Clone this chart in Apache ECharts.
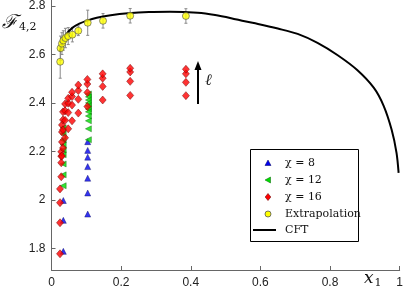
<!DOCTYPE html>
<html><head><meta charset="utf-8">
<script src="https://cdn.jsdelivr.net/npm/echarts@6/dist/echarts.min.js"></script>
<style>html,body{margin:0;padding:0;background:#fff}#c{width:406px;height:295px}</style>
</head><body><div id="c"></div>
<script>
// ---- data ----
const xTicks = [0, 0.2, 0.4, 0.6, 0.8, 1];
const yTicks = [1.8, 2, 2.2, 2.4, 2.6, 2.8];

const chi8 = [
  [0.034, 1.997], [0.034, 1.915], [0.034, 1.787],
  [0.104, 2.240], [0.104, 2.204], [0.104, 2.176], [0.104, 2.137],
  [0.104, 2.089], [0.104, 2.028], [0.104, 1.941]
];
const chi12 = [
  [0.0335, 2.058], [0.0335, 2.103], [0.0335, 2.148], [0.0335, 2.186],
  [0.0335, 2.206], [0.0335, 2.227], [0.0335, 2.247], [0.0335, 2.272], [0.0335, 2.297],
  [0.106, 2.437], [0.106, 2.425], [0.106, 2.412], [0.106, 2.400], [0.106, 2.388],
  [0.106, 2.375], [0.106, 2.363], [0.106, 2.346], [0.106, 2.326], [0.106, 2.293], [0.106, 2.248]
];
const chi16 = [
  [0.0245, 1.777], [0.0245, 1.905], [0.0245, 1.988], [0.0245, 2.045],
  [0.028, 2.095], [0.028, 2.153], [0.028, 2.180], [0.028, 2.198],
  [0.030, 2.181], [0.030, 2.239], [0.030, 2.280], [0.030, 2.309],
  [0.033, 2.214], [0.033, 2.289], [0.033, 2.330], [0.033, 2.363],
  [0.039, 2.256], [0.039, 2.328], [0.039, 2.367], [0.039, 2.396],
  [0.048, 2.293], [0.048, 2.360], [0.048, 2.399], [0.048, 2.419],
  [0.059, 2.326], [0.059, 2.391], [0.059, 2.426], [0.059, 2.444],
  [0.077, 2.358], [0.077, 2.415], [0.077, 2.451], [0.077, 2.474],
  [0.103, 2.385], [0.103, 2.443], [0.103, 2.478], [0.103, 2.497],
  [0.147, 2.412], [0.147, 2.468], [0.147, 2.502], [0.147, 2.520],
  [0.226, 2.431], [0.226, 2.489], [0.226, 2.528], [0.226, 2.543],
  [0.386, 2.430], [0.386, 2.485], [0.386, 2.520], [0.386, 2.539]
];
// x, value, error
const extrap = [
  [0.025, 2.570, 0.068], [0.026, 2.626, 0.050], [0.030, 2.645, 0.045],
  [0.034, 2.658, 0.040], [0.040, 2.668, 0.040], [0.048, 2.676, 0.035],
  [0.060, 2.682, 0.030], [0.077, 2.698, 0.020], [0.104, 2.731, 0.052],
  [0.148, 2.739, 0.030], [0.226, 2.760, 0.030], [0.386, 2.759, 0.030]
];
const cftX = [0.024, 0.028, 0.035, 0.045, 0.06, 0.08, 0.1, 0.13, 0.17, 0.22, 0.28, 0.34, 0.42, 0.47,
  0.516, 0.555, 0.593, 0.65, 0.707, 0.764, 0.821, 0.878, 0.926, 0.954, 0.977, 0.991, 0.997];
const cftY = [2.612, 2.635, 2.662, 2.688, 2.71, 2.727, 2.739, 2.752, 2.762, 2.770, 2.775, 2.776, 2.772, 2.763,
  2.750, 2.737, 2.726, 2.707, 2.685, 2.648, 2.598, 2.536, 2.462, 2.388, 2.289, 2.194, 2.111];
const names = ['\u03c7 = 8', '\u03c7 = 12', '\u03c7 = 16', 'Extrapolation', 'CFT'];

// ---- chart ----
const chart = echarts.init(document.getElementById('c'), null, {renderer: 'canvas'});
const axisCol = '#666';
const leftTri = 'path://M0,5 L10,0 L10,10 Z';
const serif = 'DejaVu Serif';
const C8 = {fill: '#0000ee', stroke: '#000060', lineWidth: 0.5};
const C12 = {fill: '#00dd00', stroke: '#006000', lineWidth: 0.5};
const C16 = {fill: '#ff0000', stroke: '#700000', lineWidth: 0.6};
const CEX = {fill: '#ffff00', stroke: '#555', lineWidth: 0.8};

// legend drawn as graphic (box + keys)
const LX = 250, LY = 149, LW = 108, LH = 92, KX = 268, TX = 285;
const rows = [163, 180, 197, 214, 230];
const legendEls = [
  {type: 'rect', shape: {x: LX + 0.5, y: LY + 0.5, width: LW, height: LH}, style: {fill: '#fff', stroke: '#000', lineWidth: 1}, z: 100},
  {type: 'polygon', shape: {points: [[KX, rows[0] - 3], [KX - 3, rows[0] + 2.5], [KX + 3, rows[0] + 2.5]]}, style: C8, z: 101},
  {type: 'polygon', shape: {points: [[KX - 3, rows[1]], [KX + 2.5, rows[1] - 3], [KX + 2.5, rows[1] + 3]]}, style: C12, z: 101},
  {type: 'polygon', shape: {points: [[KX, rows[2] - 3.5], [KX + 2.8, rows[2]], [KX, rows[2] + 3.5], [KX - 2.8, rows[2]]]}, style: C16, z: 101},
  {type: 'circle', shape: {cx: KX, cy: rows[3], r: 3}, style: CEX, z: 101},
  {type: 'line', shape: {x1: 253, y1: rows[4], x2: 276, y2: rows[4]}, style: {stroke: '#000', lineWidth: 2}, z: 101}
];
names.forEach((n, i) => legendEls.push({type: 'text', x: TX, y: rows[i], z: 101,
  style: {text: n, fontFamily: serif, fontSize: 11, fill: '#111', verticalAlign: 'middle'}}));

chart.setOption({
  animation: false,
  grid: {left: 51.5, right: 3, top: 0, bottom: 25},
  xAxis: {
    type: 'value', min: 0, max: 1, interval: 0.2,
    axisLine: {show: true, lineStyle: {color: axisCol, width: 1}},
    axisTick: {show: true, inside: true, length: 4, lineStyle: {color: axisCol}},
    axisLabel: {color: '#222', fontFamily: 'Liberation Sans', fontSize: 12, margin: 7,
      formatter: v => String(+v.toFixed(1))},
    splitLine: {show: false}
  },
  yAxis: {
    type: 'value', min: 1.71, max: 2.825,
    axisLine: {show: true, lineStyle: {color: axisCol, width: 1}},
    axisTick: {show: true, inside: true, length: 4, customValues: yTicks, lineStyle: {color: axisCol}},
    axisLabel: {color: '#222', fontFamily: 'Liberation Sans', fontSize: 12, margin: 6,
      customValues: yTicks, formatter: v => String(+v.toFixed(1))},
    splitLine: {show: false}
  },
  series: [
    {name: names[0], type: 'scatter', data: chi8, symbol: 'triangle', symbolSize: [6, 6],
      itemStyle: {color: C8.fill, borderColor: C8.stroke, borderWidth: 0.5}, z: 2},
    {name: names[1], type: 'scatter', data: chi12, symbol: leftTri, symbolSize: [6, 6],
      itemStyle: {color: C12.fill, borderColor: C12.stroke, borderWidth: 0.5}, z: 3},
    {name: names[2], type: 'scatter', data: chi16, symbol: 'diamond', symbolSize: [7, 8],
      itemStyle: {color: C16.fill, borderColor: C16.stroke, borderWidth: 0.6}, z: 4},
    {name: 'err', type: 'custom', data: extrap, z: 5, silent: true,
      renderItem: (params, api) => {
        const x = api.value(0), y = api.value(1), e = api.value(2);
        const t = api.coord([x, y + e]), b = api.coord([x, y - e]);
        const st = {stroke: '#8a8a8a', lineWidth: 1};
        return {type: 'group', children: [
          {type: 'line', shape: {x1: t[0], y1: t[1], x2: b[0], y2: b[1]}, style: st},
          {type: 'line', shape: {x1: t[0] - 1.5, y1: t[1], x2: t[0] + 1.5, y2: t[1]}, style: st},
          {type: 'line', shape: {x1: b[0] - 1.5, y1: b[1], x2: b[0] + 1.5, y2: b[1]}, style: st}
        ]};
      }},
    {name: names[4], type: 'line', data: cftX.map((x, i) => [x, cftY[i]]), showSymbol: false,
      smooth: 0.3, lineStyle: {color: '#000', width: 2}, itemStyle: {color: '#000'}, z: 6},
    {name: names[3], type: 'scatter', data: extrap.map(d => [d[0], d[1]]), symbol: 'circle', symbolSize: 7,
      itemStyle: {color: CEX.fill, borderColor: CEX.stroke, borderWidth: 0.8}, z: 7}
  ],
  graphic: legendEls.concat([
    {type: 'text', left: 2, top: 14, style: {
      text: '{f|\u2131}{s|4,2}', rich: {
        f: {fontFamily: serif, fontSize: 19, fill: '#111', fontStyle: 'italic'},
        s: {fontFamily: serif, fontSize: 11, fill: '#111', verticalAlign: 'bottom', padding: [8, 0, 0, 1]}
      }}},
    {type: 'text', left: 364, top: 270, style: {
      text: '{x|x}{s|1}', rich: {
        x: {fontFamily: serif, fontSize: 17, fontStyle: 'italic', fill: '#111'},
        s: {fontFamily: serif, fontSize: 11, fill: '#111', padding: [9, 0, 0, 1]}
      }}},
    {type: 'line', shape: {x1: 198, y1: 104, x2: 198, y2: 68}, style: {stroke: '#000', lineWidth: 2}},
    {type: 'polygon', shape: {points: [[198, 61], [194.5, 70], [201.5, 70]]}, style: {fill: '#000'}},
    {type: 'text', left: 205, top: 73, style: {text: '\u2113', fontFamily: serif, fontSize: 16, fontStyle: 'italic', fill: '#222'}}
  ])
});
</script></body></html>
